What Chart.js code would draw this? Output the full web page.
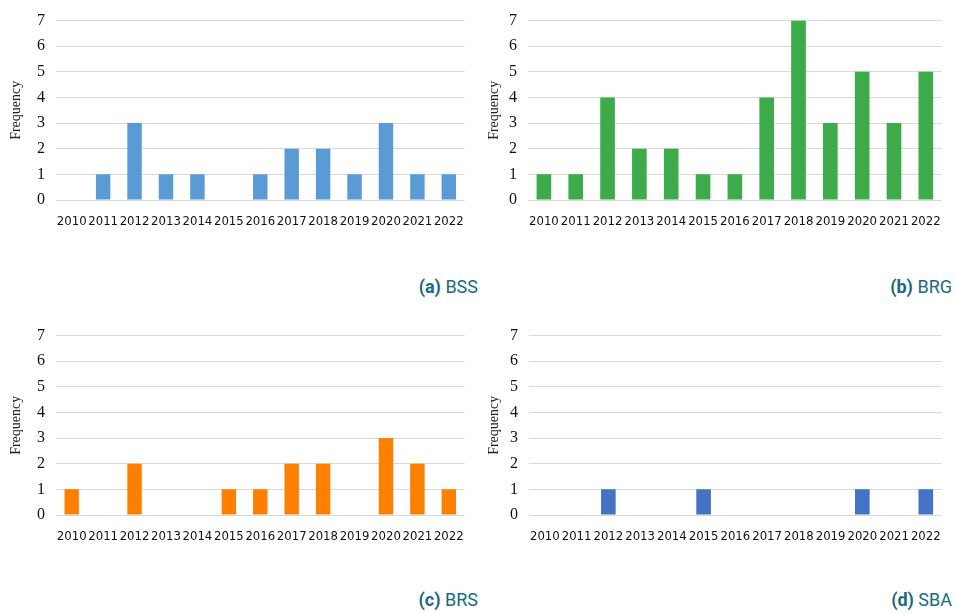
<!DOCTYPE html>
<html>
<head>
<meta charset="utf-8">
<script src="https://cdn.jsdelivr.net/npm/chart.js@4.4.0/dist/chart.umd.min.js"></script>
<style>
  body { margin: 0; background: #fff; }
  #wrap { position: relative; width: 955px; height: 614px; overflow: hidden; }
  .panel { position: absolute; width: 478px; height: 250px; }
  .cap { position: absolute; font-family: Roboto, "Noto Sans", sans-serif; font-size: 18px; color: #176b82; white-space: nowrap; }
  .cap b { font-weight: 700; }
</style>
</head>
<body>
<div id="wrap">
  <div class="panel" style="left:0;top:0"><canvas id="chartA" width="478" height="250"></canvas></div>
  <div class="panel" style="left:478px;top:0"><canvas id="chartB" width="477" height="250"></canvas></div>
  <div class="panel" style="left:0;top:315px"><canvas id="chartC" width="478" height="250"></canvas></div>
  <div class="panel" style="left:478px;top:315px"><canvas id="chartD" width="477" height="250"></canvas></div>
  <div class="cap" style="right:477px;top:276px"><b>(a)</b> BSS</div>
  <div class="cap" style="right:3px;top:276px"><b>(b)</b> BRG</div>
  <div class="cap" style="right:477px;top:589px"><b>(c)</b> BRS</div>
  <div class="cap" style="right:3px;top:589px"><b>(d)</b> SBA</div>
</div>
<script>
// years on the x axis
const years = ['2010', '2011', '2012', '2013', '2014', '2015', '2016', '2017', '2018', '2019', '2020', '2021', '2022'];

// frequency per year for each group
const bssValues = [0, 1, 3, 1, 1, 0, 1, 2, 2, 1, 3, 1, 1];
const brgValues = [1, 1, 4, 2, 2, 1, 1, 4, 7, 3, 5, 3, 5];
const brsValues = [1, 0, 2, 0, 0, 1, 1, 2, 2, 0, 3, 2, 1];
const sbaValues = [0, 0, 1, 0, 0, 1, 0, 0, 0, 0, 1, 0, 1];

const yTicks = [0, 1, 2, 3, 4, 5, 6, 7];

function makeChart(id, values, color, yWidth, rightPad) {
    const ctx = document.getElementById(id).getContext('2d');
    return new Chart(ctx, {
        type: 'bar',
        data: {
            labels: years,
            datasets: [{
                label: 'Frequency',
                data: values,
                backgroundColor: color,
                borderWidth: 0,
                barPercentage: 0.46,
                categoryPercentage: 1
            }]
        },
        options: {
            responsive: false,
            animation: false,
            layout: { padding: { top: 16, right: rightPad, bottom: 0, left: 0 } },
            plugins: {
                legend: { display: false },
                tooltip: { enabled: false }
            },
            scales: {
                x: {
                    grid: { display: false, drawTicks: false },
                    border: { display: false },
                    ticks: {
                        autoSkip: false,
                        maxRotation: 0,
                        padding: 14,
                        color: '#111',
                        font: { family: '"Liberation Sans Narrow", "DejaVu Sans Condensed", sans-serif', size: 13 }
                    },
                    afterFit: s => { s.height = 50; }
                },
                y: {
                    min: 0,
                    max: 7,
                    afterBuildTicks: s => { s.ticks = yTicks.map(v => ({ value: v })); },
                    grid: { color: '#d9d9d9', lineWidth: 1, drawTicks: false },
                    border: { display: false },
                    ticks: {
                        padding: 11,
                        color: '#111',
                        font: { family: '"Liberation Serif", "DejaVu Serif", serif', size: 16 }
                    },
                    title: {
                        display: true,
                        text: 'Frequency',
                        color: '#222',
                        padding: { top: 8, bottom: 0 },
                        font: { family: '"Liberation Serif", "DejaVu Serif", serif', size: 14 }
                    },
                    afterFit: s => { s.width = yWidth; }
                }
            }
        }
    });
}

makeChart('chartA', bssValues, '#5b9bd5', 56, 8);
makeChart('chartB', brgValues, '#3dab4a', 50, 8);
makeChart('chartC', brsValues, '#ff8000', 56, 8);
makeChart('chartD', sbaValues, '#4472c4', 51, 8);
</script>
</body>
</html>
